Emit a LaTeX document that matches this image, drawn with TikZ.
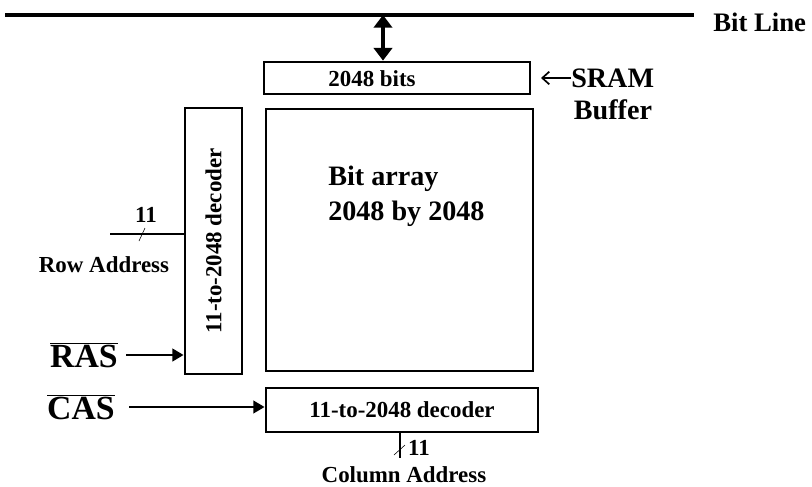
\documentclass[tikz,border=0pt]{standalone}
\usepackage{fontspec}
\setmainfont{Liberation Serif}
\usetikzlibrary{arrows.meta, positioning}

\newcommand{\hugetxt}{\fontsize{24}{28}\selectfont\bfseries}
\newcommand{\bigtxt}{\fontsize{20}{25}\selectfont\bfseries}
\newcommand{\midtxt}{\fontsize{16.3}{19}\selectfont\bfseries}

\tikzset{
  blk/.style={draw, line width=2pt, inner sep=0pt},
  lbl/.style={inner sep=0pt},
  sig/.style={line width=1.6pt, -{Triangle[width=9pt,length=8pt]}},
  bus/.style={line width=1.6pt},
}

\begin{document}
\begin{tikzpicture}[x=0.025cm, y=-0.025cm]
\useasboundingbox (0,0) rectangle (812,487);

% blocks
\node[blk, minimum width=6.65cm, minimum height=0.8cm] (sram) at (397,78) {};
\node[lbl, font=\midtxt] (sramtxt) at (372,79) {2048 bits};
\node[blk, minimum width=6.675cm, minimum height=6.55cm] (array) at (399.5,240) {};
\node[lbl, font=\bigtxt, align=left, anchor=west] (arraytxt) at (328,196) {Bit array\\2048 by 2048};
\node[blk, minimum width=1.425cm, minimum height=6.65cm] (rowdec) at (213.5,241) {};
\node[lbl, font=\midtxt, rotate=90] (rowdectxt) at (rowdec.center) {11-to-2048 decoder};
\node[blk, minimum width=6.8cm, minimum height=1.1cm, font=\midtxt] (coldec) at (402,410) {11-to-2048 decoder};

% bit line
\coordinate (bitl) at (5,15);
\coordinate (bitr) at (694,15);
\draw[line width=2.8pt] (bitl) -- (bitr);
\node[lbl, font=\fontsize{19}{22}\selectfont\bfseries, anchor=west] (bitline) at (713,22) {Bit Line};
\coordinate (tap) at (383,15);
\draw[line width=2.2pt, {Triangle[width=13pt,length=9pt]}-{Triangle[width=13pt,length=9pt]}] (tap) -- (tap |- sram.north);

% SRAM label
\node[lbl, font=\bigtxt, anchor=west] (sramlbl) at (571,78) {SRAM};
\node[lbl, font=\bigtxt] (buflbl) at (613,110) {Buffer};
\coordinate (sramtip) at (541,78);
\draw[line width=1.2pt, -{Straight Barb[length=5pt,width=9pt]}] (sramlbl.west) -- (sramtip);

% row address
\coordinate (rowin) at (110,234);
\draw[bus] (rowin) -- (rowin -| rowdec.west);
\draw[thin] (139,241) -- (145,228);
\node[lbl, font=\midtxt] (rowbits) at (146,215) {11};
\node[lbl, font=\midtxt] (rowaddr) at (104,265) {Row Address};

% strobes
\node[lbl, font=\hugetxt] (ras) at (84,355) {$\overline{\mbox{RAS}}$};
\node[lbl, font=\hugetxt] (cas) at (81,407) {$\overline{\mbox{CAS}}$};
\draw[sig, shorten <=6pt] (ras.east) -- (ras.east -| rowdec.west);
\draw[sig, shorten <=10pt] (cas.east) -- (cas.east -| coldec.west);

% column address
\coordinate (colout) at (400,458);
\draw[bus] (coldec.south -| colout) -- (colout);
\draw[thin] (394,455) -- (405,445);
\node[lbl, font=\midtxt] (colbits) at (419,448) {11};
\node[lbl, font=\midtxt] (coladdr) at (404,475) {Column Address};
\end{tikzpicture}
\end{document}
